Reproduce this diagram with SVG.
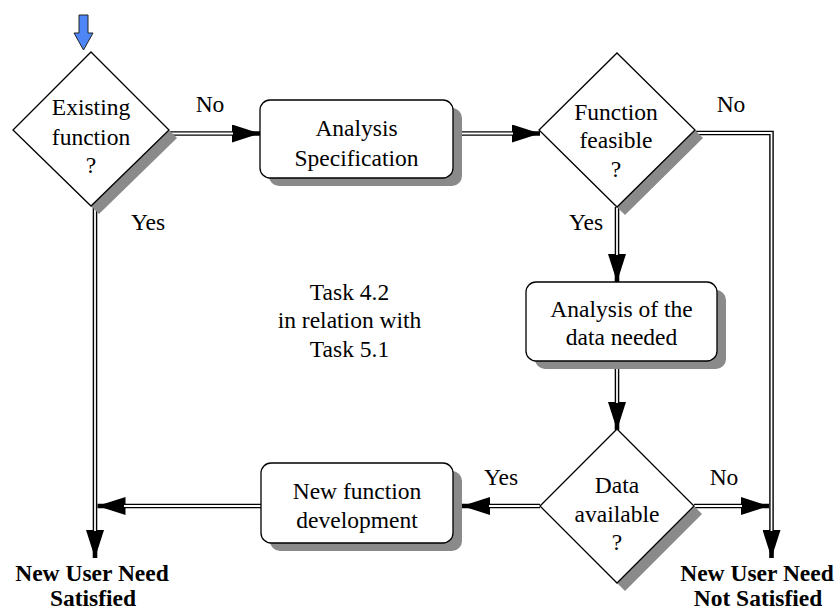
<svg xmlns="http://www.w3.org/2000/svg" width="836" height="610" viewBox="0 0 836 610">
  <style>
    text { font-size: 23.5px; fill: #000; text-anchor: middle; }
    .serif { font-family: "Liberation Serif", serif; }
    .bold { font-weight: bold; }
    .node { fill: #fff; stroke: #000; stroke-width: 1.3; }
    .shadow { fill: #8a8a8a; stroke: none; }
    .outer { fill: none; stroke: #000; stroke-width: 4.6; stroke-linejoin: miter; }
    .inner { fill: none; stroke: #fff; stroke-width: 1.8; stroke-linejoin: miter; }
  </style>
  <defs>
    <marker id="head" markerUnits="userSpaceOnUse" markerWidth="28" markerHeight="18" viewBox="0 0 28 18" refX="28" refY="9" orient="auto">
      <path d="M0,0 L28,9 L0,18 Z" fill="#000"/>
    </marker>
  </defs>

  <rect width="836" height="610" fill="#fff"/>

  <!-- entry arrow -->
  <g id="start">
    <polygon points="79,15 88,15 88,33 93,33 83.5,50 74,33 79,33" fill="#4f86f7" stroke="#222" stroke-width="1"/>
  </g>

  <!-- connectors: black outer stroke with arrowhead, white inner stroke on top -->
  <g id="connectors">
    <path class="outer" d="M169,133.5 H260" marker-end="url(#head)"/>
    <path class="inner" d="M169,133.5 H233"/>
    <path class="outer" d="M453,133.5 H540" marker-end="url(#head)"/>
    <path class="inner" d="M453,133.5 H513"/>
    <path class="outer" d="M695,133 H771.5 V558" marker-end="url(#head)"/>
    <path class="inner" d="M695,133 H771.5 V531"/>
    <path class="outer" d="M617,207 V282" marker-end="url(#head)"/>
    <path class="inner" d="M617,207 V255"/>
    <path class="outer" d="M617,361 V430" marker-end="url(#head)"/>
    <path class="inner" d="M617,361 V403"/>
    <path class="outer" d="M694,506 H769" marker-end="url(#head)"/>
    <path class="inner" d="M694,506 H742"/>
    <path class="outer" d="M540,506 H462" marker-end="url(#head)"/>
    <path class="inner" d="M540,506 H489"/>
    <path class="outer" d="M261,506 H97.5" marker-end="url(#head)"/>
    <path class="inner" d="M261,506 H124"/>
    <path class="outer" d="M95,206 V558" marker-end="url(#head)"/>
    <path class="inner" d="M95,206 V531"/>
  </g>

  <g id="existing-function" class="serif">
    <polygon class="shadow" points="99,60 177,138 99,214 21,138"/>
    <polygon class="node" points="91,52 169,130 91,206 13,130"/>
    <text class="serif" x="91" y="115">Existing</text>
    <text class="serif" x="91" y="145">function</text>
    <text class="serif" x="91" y="173">?</text>
  </g>

  <g id="analysis-specification">
    <rect class="shadow" x="269" y="108" width="193" height="78" rx="10"/>
    <rect class="node" x="260" y="100" width="193" height="78" rx="10"/>
    <text class="serif" x="356.5" y="136">Analysis</text>
    <text class="serif" x="356.5" y="166">Specification</text>
  </g>

  <g id="function-feasible">
    <polygon class="shadow" points="625,61 703,138 625,215 547,138"/>
    <polygon class="node" points="617,53 695,130 617,207 539,130"/>
    <text class="serif" x="616" y="120">Function</text>
    <text class="serif" x="616" y="148">feasible</text>
    <text class="serif" x="616" y="177">?</text>
  </g>

  <g id="analysis-data">
    <rect class="shadow" x="535" y="290" width="191" height="79" rx="10"/>
    <rect class="node" x="526" y="282" width="191" height="79" rx="10"/>
    <text class="serif" x="621.5" y="317">Analysis of the</text>
    <text class="serif" x="621.5" y="345">data needed</text>
  </g>

  <g id="data-available">
    <polygon class="shadow" points="625,437 702,514 625,591 548,514"/>
    <polygon class="node" points="617,429 694,506 617,583 540,506"/>
    <text class="serif" x="617" y="493">Data</text>
    <text class="serif" x="617" y="522">available</text>
    <text class="serif" x="617" y="550">?</text>
  </g>

  <g id="new-function-development">
    <rect class="shadow" x="270" y="471" width="192" height="80" rx="10"/>
    <rect class="node" x="261" y="463" width="192" height="80" rx="10"/>
    <text class="serif" x="357" y="499">New function</text>
    <text class="serif" x="357" y="528">development</text>
  </g>

  <g id="need-satisfied">
    <text class="serif bold" x="92" y="581">New User Need</text>
    <text class="serif bold" x="93" y="606">Satisfied</text>
  </g>

  <g id="need-not-satisfied">
    <text class="serif bold" x="757" y="581">New User Need</text>
    <text class="serif bold" x="758" y="606">Not Satisfied</text>
  </g>

  <g id="labels">
    <text class="serif" x="210" y="112">No</text>
    <text class="serif" x="148" y="230">Yes</text>
    <text class="serif" x="731" y="112">No</text>
    <text class="serif" x="586" y="230">Yes</text>
    <text class="serif" x="724" y="485">No</text>
    <text class="serif" x="501" y="485">Yes</text>
    <text class="serif" x="349.5" y="300">Task 4.2</text>
    <text class="serif" x="349.5" y="328">in relation with</text>
    <text class="serif" x="349.5" y="357">Task 5.1</text>
  </g>
</svg>
